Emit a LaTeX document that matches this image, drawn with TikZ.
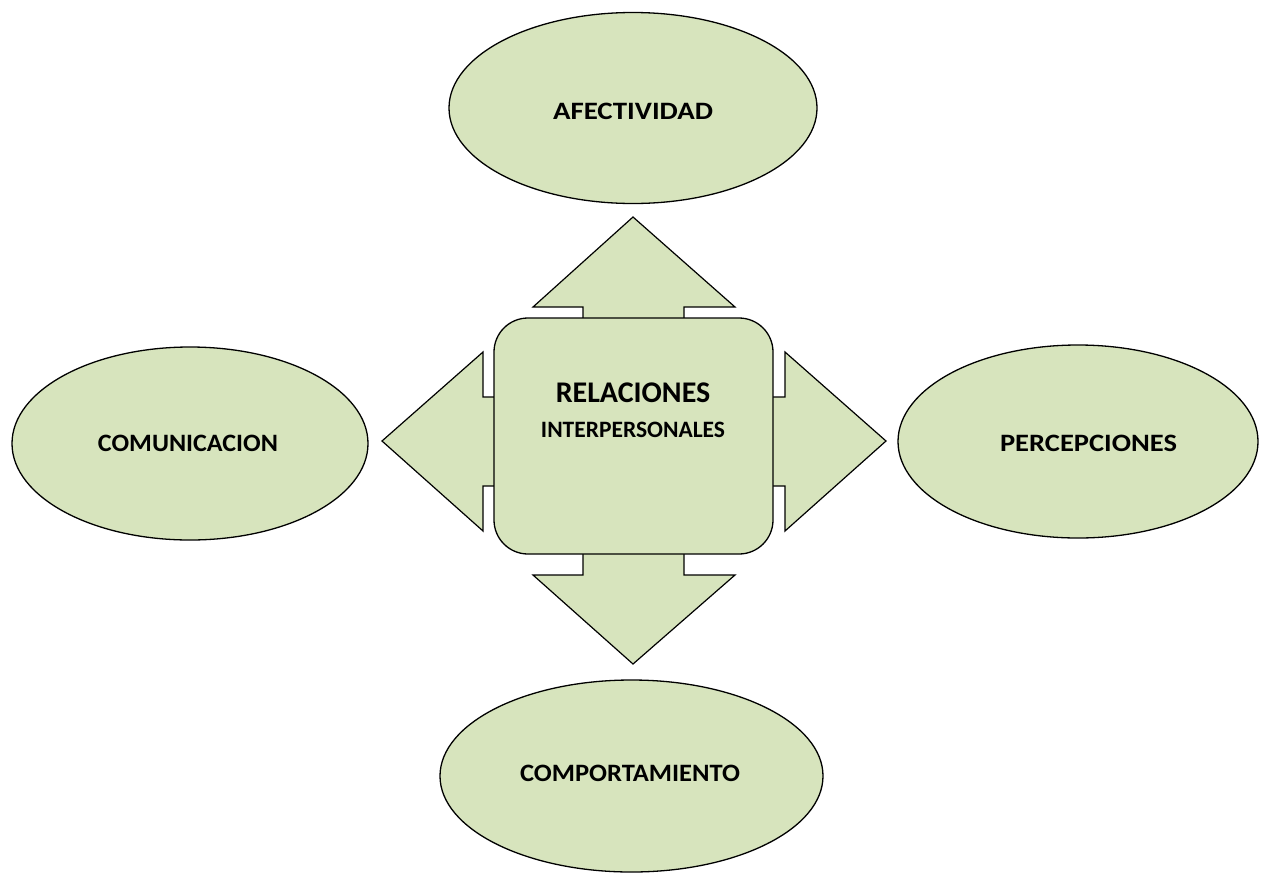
\documentclass[tikz,border=0pt]{standalone}
\usepackage{fontspec}
\usepackage{graphicx}
\setmainfont{Carlito}
\usetikzlibrary{shapes.geometric}
\definecolor{leaf}{HTML}{D7E4BD}
\tikzset{
  oval/.style={ellipse, draw=black, line width=1.3pt, fill=leaf, inner sep=0pt},
  ovaltext/.style={font=\bfseries\fontsize{25}{29}\selectfont, inner sep=0pt},
  hub/.style={draw=black, line width=1.3pt, fill=leaf, rounded corners=34pt, inner sep=0pt},
  blockarrow/.style={draw=black, line width=1.2pt, fill=leaf, line join=miter},
  hubtext/.style={font=\bfseries, align=center, inner sep=0pt}
}
\begin{document}
\begin{tikzpicture}[x=1pt,y=-1pt]
\useasboundingbox (0,0) rectangle (1263,873);
% outer ovals
\node[oval, minimum width=368pt, minimum height=191pt] (afe) at (633,108) {};
\node[oval, minimum width=356pt, minimum height=193pt] (com) at (190,443.5) {};
\node[oval, minimum width=360pt, minimum height=193pt] (per) at (1078,441.5) {};
\node[oval, minimum width=383pt, minimum height=192pt] (cmp) at (631.5,776) {};
\node[ovaltext] (afet) at (633,111) {\resizebox{160pt}{\height}{AFECTIVIDAD}};
\node[ovaltext] (comt) at (188,443) {\resizebox{180pt}{\height}{COMUNICACION}};
\node[ovaltext] (pert) at (1088.5,443.5) {\resizebox{177pt}{\height}{PERCEPCIONES}};
\node[ovaltext] (cmpt) at (630,773.5) {\resizebox{220pt}{\height}{COMPORTAMIENTO}};
% block arrows
\draw[blockarrow] (583,340) -- (583,307) -- (533,307) -- (633,217) -- (735,307) -- (684,307) -- (684,340) -- cycle;
\draw[blockarrow] (583,530) -- (583,575) -- (533,575) -- (633,664) -- (735,575) -- (684,575) -- (684,530) -- cycle;
\draw[blockarrow] (510,397) -- (483,397) -- (483,352) -- (382,441) -- (483,531) -- (483,486) -- (510,486) -- cycle;
\draw[blockarrow] (760,397) -- (785,397) -- (785,352) -- (886,441) -- (785,531) -- (785,486) -- (760,486) -- cycle;
% hub
\node[hub, minimum width=279pt, minimum height=236pt] (hub) at (633.5,436) {};
\node[hubtext] (rel1) at (633,392.5) {\fontsize{30}{34}\selectfont RELACIONES};
\node[hubtext] (rel2) at (633,430) {\fontsize{23.5}{27}\selectfont INTERPERSONALES};
\end{tikzpicture}
\end{document}
